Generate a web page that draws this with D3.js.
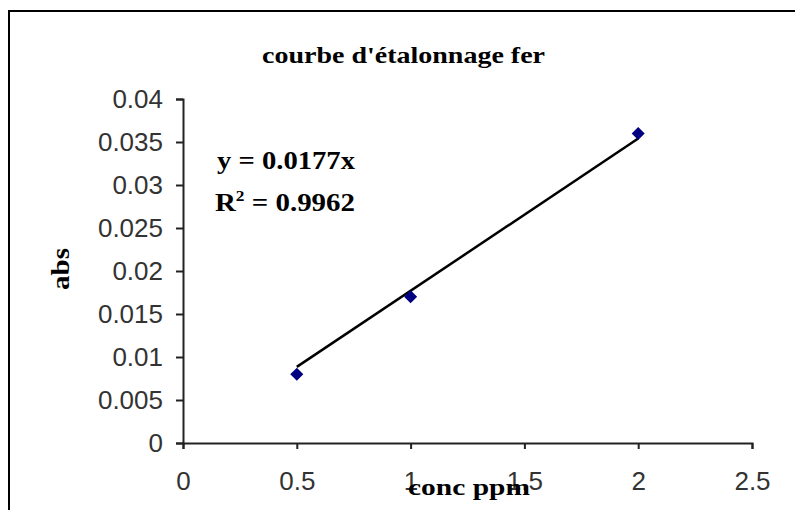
<!DOCTYPE html>
<html>
<head>
<meta charset="utf-8">
<script src="https://cdn.jsdelivr.net/npm/d3@7"></script>
<style>
  html, body { margin: 0; padding: 0; background: #fff; overflow: hidden; }
</style>
</head>
<body>
<svg id="chart"></svg>
<script>
// data
const conc = [0.5, 1, 2];
const absorbance = [0.008, 0.017, 0.036];
const slope = 0.0177;

const xTicks = [0, 0.5, 1, 1.5, 2, 2.5];
const xTickLabels = ["0", "0.5", "1", "1.5", "2", "2.5"];
const yTicks = [0, 0.005, 0.01, 0.015, 0.02, 0.025, 0.03, 0.035, 0.04];
const yTickLabels = ["0", "0.005", "0.01", "0.015", "0.02", "0.025", "0.03", "0.035", "0.04"];

const title = "courbe d'étalonnage fer";
const xTitle = "conc  ppm";
const yTitle = "abs";

// chart size and plot area
const width = 795;
const height = 510;
const plotLeft = 183;
const plotRight = 752;
const plotTop = 99;
const plotBottom = 443;

const serif = "'Liberation Serif', 'Times New Roman', serif";
const sans = "'Liberation Sans', Arial, sans-serif";

const svg = d3.select("#chart")
    .attr("width", width)
    .attr("height", height);

// outer frame (runs off the right and bottom edges)
svg.append("rect")
    .attr("x", 9)
    .attr("y", 11)
    .attr("width", width + 20)
    .attr("height", height + 20)
    .attr("fill", "#fff")
    .attr("stroke", "#000")
    .attr("stroke-width", 2);

const x = d3.scaleLinear()
    .domain([0, 2.5])
    .range([plotLeft, plotRight]);

const y = d3.scaleLinear()
    .domain([0, 0.04])
    .range([plotBottom, plotTop]);

// x-axis
const xAxis = svg.append("g")
    .attr("transform", `translate(0,${plotBottom})`)
    .call(d3.axisBottom(x)
        .tickValues(xTicks)
        .tickFormat((d, i) => xTickLabels[i])
        .tickSize(6)
        .tickPadding(23));

// y-axis
const yAxis = svg.append("g")
    .attr("transform", `translate(${plotLeft},0)`)
    .call(d3.axisLeft(y)
        .tickValues(yTicks)
        .tickFormat((d, i) => yTickLabels[i])
        .tickSize(7)
        .tickPadding(13));

[xAxis, yAxis].forEach(g => {
  g.select(".domain").attr("stroke", "#222").attr("stroke-width", 2);
  g.selectAll(".tick line").attr("stroke", "#222").attr("stroke-width", 2);
  g.selectAll(".tick text")
      .attr("fill", "#333")
      .style("font-family", sans)
      .style("font-size", "26px");
});

// trend line y = slope * x over the data range
const trend = d3.extent(conc).map(c => [c, slope * c]);
svg.append("path")
    .datum(trend)
    .attr("fill", "none")
    .attr("stroke", "#000")
    .attr("stroke-width", 2.5)
    .attr("d", d3.line().x(d => x(d[0])).y(d => y(d[1])));

// points
svg.append("g")
    .selectAll("path")
    .data(conc.map((c, i) => [c, absorbance[i]]))
    .join("path")
    .attr("transform", d => `translate(${x(d[0])},${y(d[1])}) rotate(45)`)
    .attr("d", d3.symbol(d3.symbolSquare, 85))
    .attr("fill", "#000080");

// title
svg.append("text")
    .attr("x", 262)
    .attr("y", 63)
    .attr("textLength", 283)
    .attr("lengthAdjust", "spacingAndGlyphs")
    .style("font-family", serif)
    .style("font-weight", "bold")
    .style("font-size", "23px")
    .text(title);

// equation and R²
const eq = svg.append("g")
    .style("font-family", serif)
    .style("font-weight", "bold")
    .style("font-size", "25px");

eq.append("text")
    .attr("x", 217)
    .attr("y", 169)
    .attr("textLength", 138)
    .attr("lengthAdjust", "spacingAndGlyphs")
    .text(`y = ${slope}x`);

const r2 = eq.append("text")
    .attr("x", 215)
    .attr("y", 211)
    .attr("textLength", 140)
    .attr("lengthAdjust", "spacingAndGlyphs");
r2.append("tspan").text("R");
r2.append("tspan").attr("dy", -10).style("font-size", "15px").text("2");
r2.append("tspan").attr("dy", 10).text(" = 0.9962");

// axis titles
svg.append("text")
    .attr("x", 408)
    .attr("y", 495)
    .attr("textLength", 122)
    .attr("lengthAdjust", "spacingAndGlyphs")
    .style("font-family", serif)
    .style("font-weight", "bold")
    .style("font-size", "23px")
    .text(xTitle);

svg.append("text")
    .attr("transform", "translate(69,269) rotate(-90)")
    .attr("text-anchor", "middle")
    .attr("textLength", 42)
    .attr("lengthAdjust", "spacingAndGlyphs")
    .style("font-family", serif)
    .style("font-weight", "bold")
    .style("font-size", "26px")
    .text(yTitle);
</script>
</body>
</html>
